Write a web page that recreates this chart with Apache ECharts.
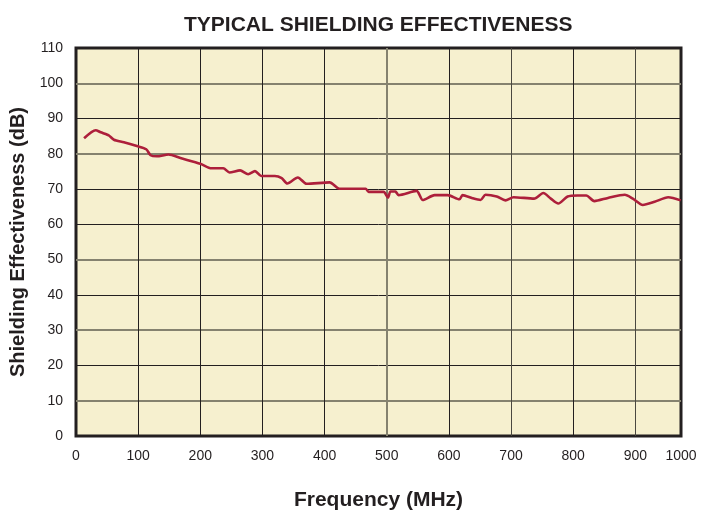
<!DOCTYPE html>
<html>
<head>
<meta charset="utf-8">
<script src="https://cdn.jsdelivr.net/npm/echarts@6/dist/echarts.min.js"></script>
<style>
html,body{margin:0;padding:0;background:#fff;}
#chart{width:715px;height:510px;}
</style>
</head>
<body>
<div id="chart"></div>
<script>
// Frequency (MHz) and shielding effectiveness (dB)
const freq = [13, 31.7, 39.7, 47.7, 53, 61, 77, 98, 113, 120, 130, 149, 168, 200, 218, 237, 247, 264, 277, 288, 298, 320, 331, 340, 357, 371, 408, 424, 466, 471, 495, 502, 506, 514, 519, 548, 558, 577, 598, 617, 622, 638, 651, 659, 677, 691, 704, 737, 752, 764, 776, 791, 807, 821, 834, 856, 883, 896, 912, 931, 953, 973];
const shielding = [84.4, 86.7, 86.1, 85.6, 85.2, 84.0, 83.3, 82.2, 81.3, 79.6, 79.3, 79.8, 78.8, 77.2, 75.9, 75.9, 74.7, 75.3, 74.2, 75.1, 73.7, 73.7, 73.1, 71.6, 73.3, 71.5, 71.9, 70.1, 70.1, 69.2, 69.2, 67.6, 69.3, 69.3, 68.3, 69.5, 66.9, 68.3, 68.3, 67.1, 68.3, 67.4, 66.9, 68.4, 67.9, 66.8, 67.7, 67.3, 68.9, 67.3, 65.9, 67.9, 68.2, 68.2, 66.6, 67.5, 68.4, 67.3, 65.5, 66.4, 67.7, 66.8];
const xTickLabelAtEnd = '1000';
const titleText = 'TYPICAL SHIELDING EFFECTIVENESS';
const xName = 'Frequency (MHz)';
const yName = 'Shielding Effectiveness (dB)';

const X_MAX = 973.5;
const DARK = '#231f20';
const MID = '#4a4840';
const GRAY = '#85826f';
const T = 'rgba(0,0,0,0)';
const FONT = '"Liberation Sans", Arial, Helvetica, sans-serif';

const chart = echarts.init(document.getElementById('chart'), null, {renderer: 'canvas'});
const data = freq.map((f, i) => [f, shielding[i]]);

chart.setOption({
  animation: false,
  backgroundColor: '#ffffff',
  title: {
    text: titleText,
    left: 179, top: 10,
    textStyle: {fontFamily: FONT, fontSize: 21, fontWeight: 'bold', color: DARK}
  },
  grid: {
    left: 76, right: 34, top: 48, bottom: 74,
    containLabel: false,
    outerBoundsMode: 'none',
    show: true, backgroundColor: '#f6f0cf',
    borderColor: DARK, borderWidth: 3, z: 0
  },
  xAxis: [{
    type: 'value', min: 0, max: X_MAX, interval: 100,
    position: 'bottom',
    name: xName, nameLocation: 'middle', nameGap: 54,
    nameTextStyle: {fontFamily: FONT, fontSize: 21, fontWeight: 'bold', color: DARK},
    axisLine: {show: false}, axisTick: {show: false},
    axisLabel: {
      fontFamily: FONT, fontSize: 14, color: DARK, margin: 13,
      showMaxLabel: true,
      formatter: v => (v > 950 ? xTickLabelAtEnd : String(v))
    },
    splitLine: {show: true, lineStyle: {width: 1, color: [T, DARK, DARK, DARK, DARK, T, DARK, MID, DARK, MID, T]}}
  }, {
    type: 'value', min: 0, max: X_MAX, interval: 100,
    position: 'top',
    axisLine: {show: false}, axisTick: {show: false}, axisLabel: {show: false},
    splitLine: {show: true, lineStyle: {width: 2, color: [T, T, T, T, T, GRAY, T, T, T, T, T]}}
  }],
  yAxis: [{
    type: 'value', min: 0, max: 110, interval: 10,
    position: 'left',
    name: yName, nameLocation: 'middle', nameGap: 48, nameRotate: 90,
    nameTextStyle: {fontFamily: FONT, fontSize: 20, fontWeight: 'bold', color: DARK},
    axisLine: {show: false}, axisTick: {show: false},
    axisLabel: {fontFamily: FONT, fontSize: 14, color: DARK, margin: 13},
    splitLine: {show: true, lineStyle: {width: 1, color: [T, T, DARK, T, DARK, T, DARK, DARK, T, DARK, T, T]}}
  }, {
    type: 'value', min: 0, max: 110, interval: 10,
    position: 'right',
    axisLine: {show: false}, axisTick: {show: false}, axisLabel: {show: false},
    splitLine: {show: true, lineStyle: {width: 2, color: [T, GRAY, T, GRAY, T, GRAY, T, T, GRAY, T, GRAY, T]}}
  }],
  series: [{
    type: 'line',
    xAxisIndex: 0, yAxisIndex: 0,
    data: data,
    smooth: 0.25,
    showSymbol: false,
    lineStyle: {color: '#ad1f3b', width: 2.6},
    z: 5
  }]
});
</script>
</body>
</html>
